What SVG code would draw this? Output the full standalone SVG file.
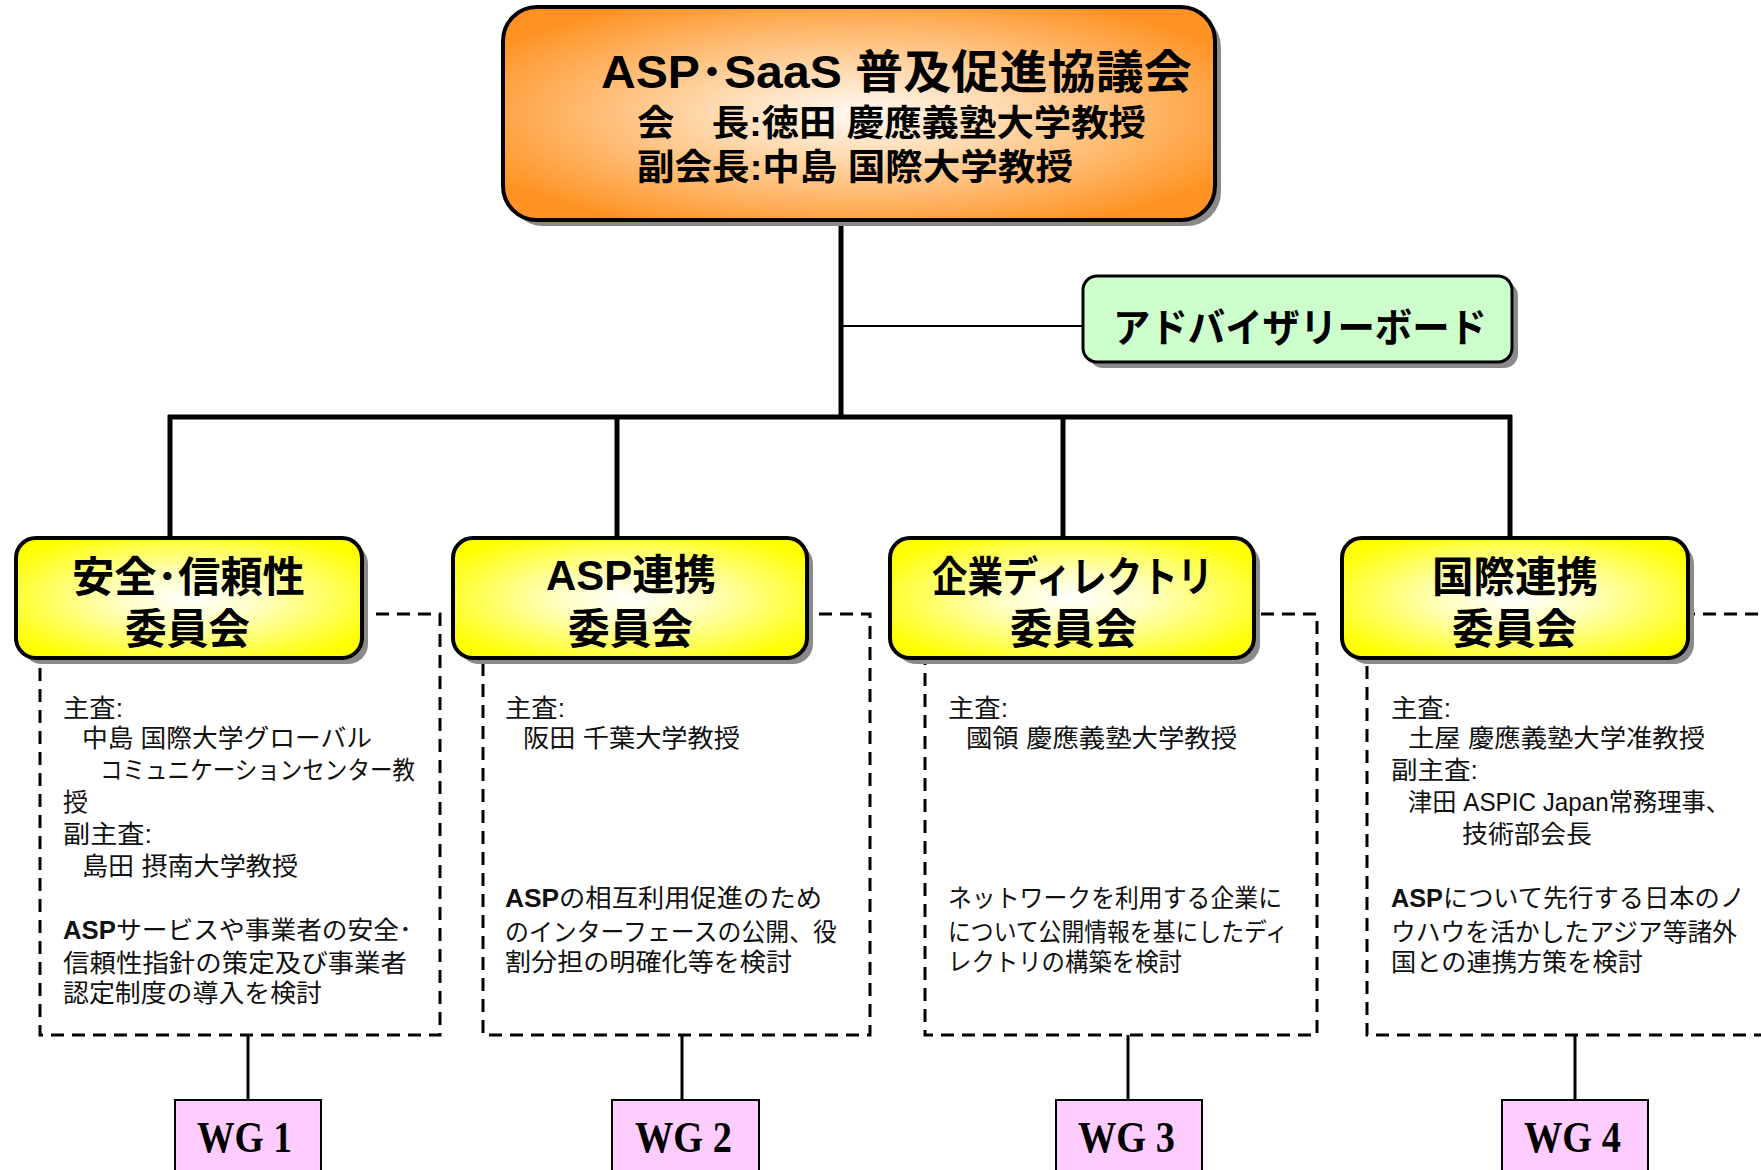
<svg xmlns="http://www.w3.org/2000/svg" width="1761" height="1170" viewBox="0 0 1761 1170">
<defs>
  <radialGradient id="gOrange" cx="50%" cy="50%" r="60%">
    <stop offset="0" stop-color="#FFFAF4"/>
    <stop offset="0.35" stop-color="#FFD9AE"/>
    <stop offset="1" stop-color="#FF9222"/>
  </radialGradient>
  <radialGradient id="gYellow" cx="50%" cy="50%" r="60%">
    <stop offset="0" stop-color="#FFFFFF"/>
    <stop offset="0.35" stop-color="#FFFFC0"/>
    <stop offset="1" stop-color="#FFFF00"/>
  </radialGradient>
  <style>
    .jp { font-family: "Liberation Sans", "Noto Sans CJK JP", sans-serif; }
    .ttl { font-weight: bold; fill: #000; }
    .body { font-size: 25px; fill: #111; }
    .b { font-weight: bold; }
    .shadow { fill: #8a8a8a; }
    .cbox { fill: url(#gYellow); stroke: #000; stroke-width: 4; }
    .dash { fill: none; stroke: #000; stroke-width: 3; stroke-dasharray: 13 8; }
    .wg { fill: #FFCCFF; stroke: #000; stroke-width: 2; }
    .wgt { font-family: "Liberation Serif", serif; font-weight: bold; font-size: 44px; fill: #000; }
    .thick { stroke: #000; stroke-width: 5; fill: none; }
    .thin { stroke: #000; stroke-width: 2; fill: none; }
    .mid { stroke: #000; stroke-width: 3; fill: none; }
  </style>
</defs>
<rect width="1761" height="1170" fill="#fff"/>

<!-- connectors -->
<g id="connectors">
  <line class="thick" x1="841" y1="215" x2="841" y2="417"/>
  <line class="thin" x1="841" y1="326" x2="1085" y2="326"/>
  <line class="thick" x1="168" y1="417" x2="1512" y2="417"/>
  <line class="thick" x1="170" y1="415" x2="170" y2="540"/>
  <line class="thick" x1="617" y1="415" x2="617" y2="540"/>
  <line class="thick" x1="1063" y1="415" x2="1063" y2="540"/>
  <line class="thick" x1="1510" y1="415" x2="1510" y2="540"/>
  <line class="mid" x1="248" y1="1035" x2="248" y2="1100"/>
  <line class="mid" x1="682" y1="1035" x2="682" y2="1100"/>
  <line class="mid" x1="1128" y1="1035" x2="1128" y2="1100"/>
  <line class="mid" x1="1575" y1="1035" x2="1575" y2="1100"/>
</g>

<!-- main council -->
<g id="council">
  <rect class="shadow" x="509" y="13" width="712" height="213" rx="34" fill="#9a9a9a"/>
  <rect x="503" y="7" width="712" height="213" rx="34" fill="url(#gOrange)" stroke="#000" stroke-width="4"/>
  <text class="jp ttl" x="601" y="88" font-size="46" textLength="591" lengthAdjust="spacingAndGlyphs">ASP･SaaS 普及促進協議会</text>
  <text class="jp ttl" x="637" y="136" font-size="36" textLength="509" lengthAdjust="spacingAndGlyphs">会　長:徳田 慶應義塾大学教授</text>
  <text class="jp ttl" x="637" y="180" font-size="36" textLength="436" lengthAdjust="spacingAndGlyphs">副会長:中島 国際大学教授</text>
</g>

<!-- advisory board -->
<g id="advisory">
  <rect class="shadow" x="1089" y="282" width="429" height="86" rx="14"/>
  <rect x="1083" y="276" width="429" height="86" rx="14" fill="#CCFFCC" stroke="#000" stroke-width="3"/>
  <text class="jp" x="1113" y="342" font-size="40" font-weight="bold" textLength="374" lengthAdjust="spacingAndGlyphs">アドバイザリーボード</text>
</g>

<!-- committee 1 -->
<g id="committee1">
  <rect class="dash" x="40" y="614" width="400" height="421"/>
  <rect class="shadow" x="22" y="544" width="346" height="120" rx="20"/>
  <rect class="cbox" x="16" y="538" width="346" height="120" rx="20"/>
  <text class="jp ttl" x="72" y="592" font-size="42" textLength="233" lengthAdjust="spacingAndGlyphs">安全･信頼性</text>
  <text class="jp ttl" x="125" y="644" font-size="42" textLength="125" lengthAdjust="spacingAndGlyphs">委員会</text>
  <g class="jp body">
    <text x="63" y="717" textLength="60" lengthAdjust="spacingAndGlyphs">主査:</text>
    <text x="82" y="747" textLength="290" lengthAdjust="spacingAndGlyphs">中島 国際大学グローバル</text>
    <text x="100" y="779" textLength="315" lengthAdjust="spacingAndGlyphs">コミュニケーションセンター教</text>
    <text x="63" y="811">授</text>
    <text x="63" y="843" textLength="89" lengthAdjust="spacingAndGlyphs">副主査:</text>
    <text x="82" y="875" textLength="216" lengthAdjust="spacingAndGlyphs">島田 摂南大学教授</text>
    <text x="63" y="939" textLength="349" lengthAdjust="spacingAndGlyphs"><tspan class="b">ASP</tspan>サービスや事業者の安全･</text>
    <text x="63" y="972" textLength="344" lengthAdjust="spacingAndGlyphs">信頼性指針の策定及び事業者</text>
    <text x="63" y="1002" textLength="259" lengthAdjust="spacingAndGlyphs">認定制度の導入を検討</text>
  </g>
</g>

<!-- committee 2 -->
<g id="committee2">
  <rect class="dash" x="483" y="614" width="387" height="421"/>
  <rect class="shadow" x="459" y="544" width="354" height="120" rx="20"/>
  <rect class="cbox" x="453" y="538" width="354" height="120" rx="20"/>
  <text class="jp ttl" x="546" y="590" font-size="42" textLength="170" lengthAdjust="spacingAndGlyphs">ASP連携</text>
  <text class="jp ttl" x="568" y="644" font-size="42" textLength="125" lengthAdjust="spacingAndGlyphs">委員会</text>
  <g class="jp body">
    <text x="505" y="717" textLength="60" lengthAdjust="spacingAndGlyphs">主査:</text>
    <text x="523" y="747" textLength="217" lengthAdjust="spacingAndGlyphs">阪田 千葉大学教授</text>
    <text x="505" y="907" textLength="317" lengthAdjust="spacingAndGlyphs"><tspan class="b">ASP</tspan>の相互利用促進のため</text>
    <text x="505" y="941" textLength="332" lengthAdjust="spacingAndGlyphs">のインターフェースの公開、役</text>
    <text x="505" y="971" textLength="287" lengthAdjust="spacingAndGlyphs">割分担の明確化等を検討</text>
  </g>
</g>

<!-- committee 3 -->
<g id="committee3">
  <rect class="dash" x="925" y="614" width="392" height="421"/>
  <rect class="shadow" x="896" y="544" width="364" height="120" rx="20"/>
  <rect class="cbox" x="890" y="538" width="364" height="120" rx="20"/>
  <text class="jp ttl" x="932" y="592" font-size="42" textLength="281" lengthAdjust="spacingAndGlyphs">企業ディレクトリ</text>
  <text class="jp ttl" x="1010" y="644" font-size="42" textLength="127" lengthAdjust="spacingAndGlyphs">委員会</text>
  <g class="jp body">
    <text x="948" y="717" textLength="60" lengthAdjust="spacingAndGlyphs">主査:</text>
    <text x="966" y="747" textLength="271" lengthAdjust="spacingAndGlyphs">國領 慶應義塾大学教授</text>
    <text x="948" y="907" textLength="334" lengthAdjust="spacingAndGlyphs">ネットワークを利用する企業に</text>
    <text x="948" y="941" textLength="340" lengthAdjust="spacingAndGlyphs">について公開情報を基にしたディ</text>
    <text x="948" y="971" textLength="234" lengthAdjust="spacingAndGlyphs">レクトリの構築を検討</text>
  </g>
</g>

<!-- committee 4 -->
<g id="committee4">
  <rect class="dash" x="1367" y="614" width="420" height="421"/>
  <rect class="shadow" x="1348" y="544" width="346" height="120" rx="20"/>
  <rect class="cbox" x="1342" y="538" width="346" height="120" rx="20"/>
  <text class="jp ttl" x="1432" y="592" font-size="42" textLength="166" lengthAdjust="spacingAndGlyphs">国際連携</text>
  <text class="jp ttl" x="1452" y="644" font-size="42" textLength="125" lengthAdjust="spacingAndGlyphs">委員会</text>
  <g class="jp body">
    <text x="1391" y="717" textLength="60" lengthAdjust="spacingAndGlyphs">主査:</text>
    <text x="1408" y="747" textLength="297" lengthAdjust="spacingAndGlyphs">土屋 慶應義塾大学准教授</text>
    <text x="1391" y="779" textLength="87" lengthAdjust="spacingAndGlyphs">副主査:</text>
    <text x="1408" y="811" textLength="322" lengthAdjust="spacingAndGlyphs">津田 ASPIC Japan常務理事、</text>
    <text x="1462" y="843" textLength="130" lengthAdjust="spacingAndGlyphs">技術部会長</text>
    <text x="1391" y="907" textLength="354" lengthAdjust="spacingAndGlyphs"><tspan class="b">ASP</tspan>について先行する日本のノ</text>
    <text x="1391" y="941" textLength="346" lengthAdjust="spacingAndGlyphs">ウハウを活かしたアジア等諸外</text>
    <text x="1391" y="971" textLength="252" lengthAdjust="spacingAndGlyphs">国との連携方策を検討</text>
  </g>
</g>

<!-- working groups -->
<g id="wg1">
  <rect class="wg" x="175" y="1100" width="146" height="80"/>
  <text class="wgt" x="197" y="1152" textLength="95" lengthAdjust="spacingAndGlyphs">WG 1</text>
</g>
<g id="wg2">
  <rect class="wg" x="612" y="1100" width="147" height="80"/>
  <text class="wgt" x="635" y="1152" textLength="97" lengthAdjust="spacingAndGlyphs">WG 2</text>
</g>
<g id="wg3">
  <rect class="wg" x="1056" y="1100" width="146" height="80"/>
  <text class="wgt" x="1078" y="1152" textLength="97" lengthAdjust="spacingAndGlyphs">WG 3</text>
</g>
<g id="wg4">
  <rect class="wg" x="1502" y="1100" width="146" height="80"/>
  <text class="wgt" x="1524" y="1152" textLength="97" lengthAdjust="spacingAndGlyphs">WG 4</text>
</g>
</svg>
